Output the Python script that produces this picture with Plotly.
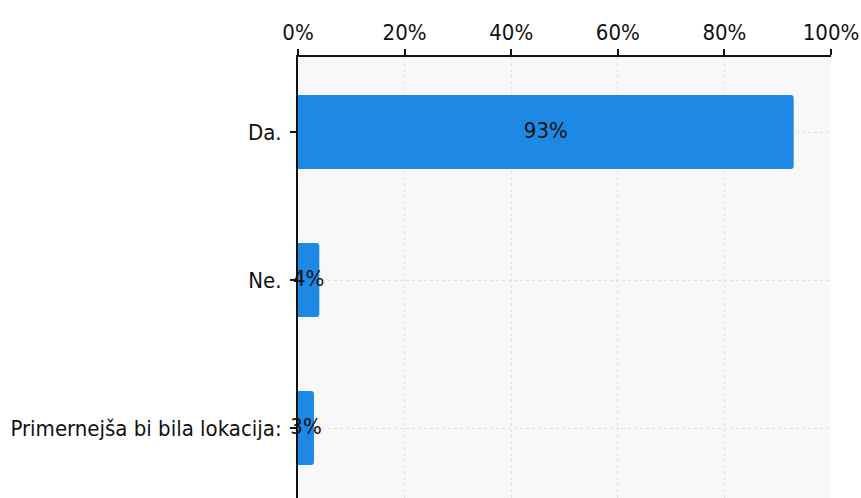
import plotly.graph_objects as go

# Survey answers and their shares (percent)
categories = ["Da.", "Ne.", "Primernejša bi bila lokacija:"]
values = [93, 4, 3]
x_ticks = [0, 20, 40, 60, 80, 100]
x_tick_labels = ["0%", "20%", "40%", "60%", "80%", "100%"]

FONT = "DejaVu Sans Condensed, DejaVu Sans, sans-serif"
FONT_SIZE = 22

fig = go.Figure()

fig.add_trace(go.Bar(
    x=values,
    y=categories,
    orientation="h",
    width=0.5,
    marker=dict(color="#1e88e5", cornerradius=3,
                line=dict(color="#1e88e5", width=0)),
    hoverinfo="skip",
))

# Percentage labels centred on each bar
fig.add_trace(go.Scatter(
    x=[v / 2 for v in values],
    y=categories,
    mode="text",
    text=[f"{v}%" for v in values],
    textposition="middle center",
    textfont=dict(family=FONT, size=FONT_SIZE, color="#111111"),
    hoverinfo="skip",
    cliponaxis=False,
))

grid_style = dict(
    showgrid=True,
    gridcolor="#e2e2e2",
    griddash="3px,3px",
    gridwidth=1,
)

fig.update_layout(
    width=861,
    height=498,
    margin=dict(l=298, r=30, t=57, b=0, autoexpand=False),
    paper_bgcolor="white",
    plot_bgcolor="#f8f8f8",
    showlegend=False,
    font=dict(family=FONT, size=FONT_SIZE, color="#111111"),
    xaxis=dict(
        side="top",
        range=[0, 100],
        tickvals=x_ticks,
        ticktext=x_tick_labels,
        showline=True,
        linecolor="#111111",
        linewidth=2,
        ticks="outside",
        ticklen=6,
        tickwidth=2,
        tickcolor="#111111",
        zeroline=False,
        fixedrange=True,
        automargin=False,
        **grid_style,
    ),
    yaxis=dict(
        range=[2.473, -0.507],
        categoryorder="array",
        categoryarray=categories,
        showline=True,
        linecolor="#111111",
        linewidth=2,
        ticks="outside",
        ticklen=6,
        tickwidth=2,
        tickcolor="#111111",
        ticklabelstandoff=4,
        zeroline=False,
        fixedrange=True,
        automargin=False,
        **grid_style,
    ),
)

fig.write_html("out.html")
